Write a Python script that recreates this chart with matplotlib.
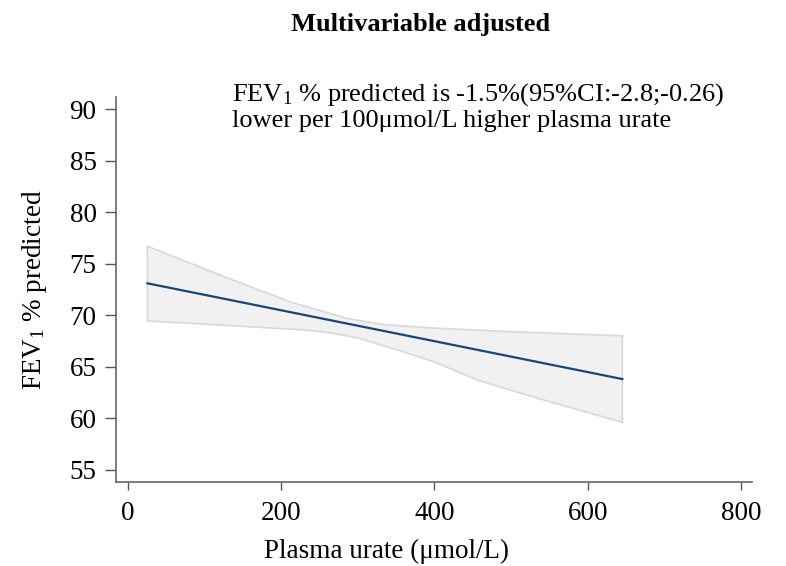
import matplotlib
matplotlib.use("Agg")
import matplotlib.pyplot as plt
import numpy as np

plt.rcParams['font.family'] = ['Liberation Serif', 'DejaVu Serif']
plt.rcParams['mathtext.fontset'] = 'custom'
plt.rcParams['mathtext.rm'] = 'Liberation Serif'
plt.rcParams['mathtext.it'] = 'Liberation Serif:italic'

# Fitted line
line_x = [26, 645]
line_y = [73.1, 63.8]

# Confidence band (upper / lower)
upper_x = [26, 138, 212, 286, 333, 399, 500, 645]
upper_y = [76.7, 73.4, 71.3, 69.7, 69.1, 68.75, 68.4, 68.0]
lower_x = [26, 225, 265, 300, 351, 399, 456, 550, 645]
lower_y = [69.45, 68.6, 68.3, 67.8, 66.65, 65.5, 63.7, 61.6, 59.6]

x_ticks = [0, 200, 400, 600, 800]
y_ticks = [55, 60, 65, 70, 75, 80, 85, 90]

W, H = 786, 566
FS = 19.5
fig = plt.figure(figsize=(W / 100, H / 100), dpi=100)
ax = fig.add_axes([116 / W, 1 - 482 / H, (752 - 116) / W, (482 - 97) / H])

# band polygon
poly_x = list(upper_x) + list(lower_x[::-1])
poly_y = list(upper_y) + list(lower_y[::-1])
ax.fill(poly_x, poly_y, facecolor='#f1f1f1', edgecolor='#d8d8d8', linewidth=1.2, zorder=1)
ax.plot(line_x, line_y, color='#1a476f', linewidth=1.6, zorder=2)

ax.set_xlim(-15, 814)
ax.set_ylim(53.8, 91.2)
ax.set_xticks(x_ticks)
ax.set_yticks(y_ticks)
ax.tick_params(axis='both', direction='out', color='#555555', labelsize=FS, width=1)
ax.tick_params(axis='x', length=6, pad=8)
ax.tick_params(axis='y', length=8, pad=6)
for s in ['top', 'right']:
    ax.spines[s].set_visible(False)
for s in ['left', 'bottom']:
    ax.spines[s].set_color('#666666')
    ax.spines[s].set_linewidth(1.2)

fig.text(387 / W, 1 - 551 / H, 'Plasma urate (μmol/L)', ha='center', va='center', fontsize=FS)
fig.text(35 / W, 1 - 290 / H, 'FEV$_1$ % predicted', ha='center', va='center',
         rotation=90, fontsize=FS)

fig.text(421 / W, 1 - 24 / H, 'Multivariable adjusted', ha='center', va='center',
         fontsize=19, fontweight='bold')
fig.text(232 / W, 1 - 101 / H, 'FEV$_1$ % predicted is -1.5%(95%CI:-2.8;-0.26)',
         ha='left', va='baseline', fontsize=19)
fig.text(232 / W, 1 - 127 / H, 'lower per 100μmol/L higher plasma urate',
         ha='left', va='baseline', fontsize=19)

fig.savefig('out.png', dpi=100)
